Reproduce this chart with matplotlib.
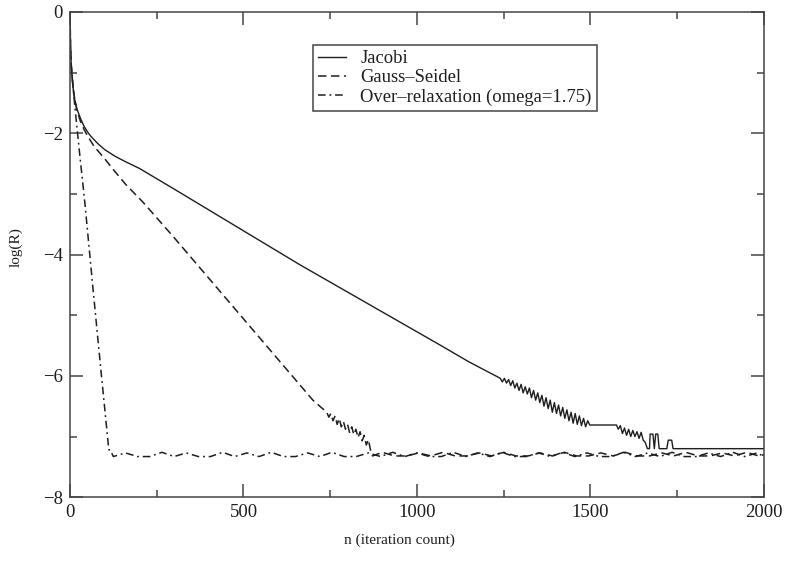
import matplotlib
matplotlib.use('Agg')
import matplotlib.pyplot as plt
import matplotlib.ticker as ticker

# residual curves (n = iteration count, value = log(R))
jacobi_n = ([0, 1, 2, 4, 6, 9, 14, 20, 30, 40, 52, 60, 80, 100, 130, 160, 200,
             250, 300, 663, 1066, 1150]
            + [1240, 1246, 1252, 1258, 1264, 1270, 1276, 1282, 1288, 1294, 1300,
               1306, 1312, 1318, 1324, 1330, 1336, 1342, 1348, 1354, 1360, 1366,
               1372, 1378, 1384, 1390, 1396, 1402, 1408, 1414, 1420, 1426, 1432,
               1438, 1444, 1450, 1456, 1462, 1468, 1474, 1480, 1486, 1492, 1498]
            + [1575]
            + [1580, 1586, 1592, 1598, 1604, 1610, 1616, 1622, 1628, 1634, 1640,
               1646, 1652, 1658, 1664, 1670, 1672, 1680, 1684, 1688, 1694, 1698,
               1704, 1720, 1724, 1734, 1738, 2000])
jacobi_logr = ([0, -0.4, -0.65, -0.9, -1.05, -1.25, -1.45, -1.6, -1.75, -1.88, -1.99,
                -2.05, -2.17, -2.27, -2.38, -2.47, -2.58, -2.75, -2.92, -4.17, -5.49,
                -5.77]
               + [-6.04, -6.10, -6.04, -6.12, -6.06, -6.16, -6.08, -6.20, -6.12, -6.24,
                  -6.14, -6.28, -6.18, -6.30, -6.20, -6.36, -6.24, -6.40, -6.28, -6.44,
                  -6.32, -6.50, -6.36, -6.54, -6.40, -6.60, -6.44, -6.62, -6.48, -6.66,
                  -6.52, -6.70, -6.56, -6.74, -6.60, -6.78, -6.62, -6.80, -6.66, -6.82,
                  -6.70, -6.84, -6.74, -6.81]
               + [-6.81]
               + [-6.88, -6.82, -6.95, -6.86, -6.98, -6.88, -7.00, -6.90, -7.00, -6.92,
                  -7.03, -6.93, -7.06, -7.10, -7.20, -7.20, -6.96, -6.96, -7.20, -6.96,
                  -6.96, -7.20, -7.20, -7.20, -7.06, -7.06, -7.20, -7.20])

gs_n = ([0, 2, 4, 6, 9, 14, 20, 30, 40, 50, 70, 100, 125, 160, 211, 300, 400,
         500, 600, 700, 740]
        + [746, 752, 758, 764, 770, 776, 782, 788, 794, 800, 806, 812, 818, 824,
           830, 836, 842, 848, 854, 860, 866]
        + [872, 900, 935, 970, 1005, 1040, 1075, 1110, 1145, 1180, 1215, 1250,
           1285, 1320, 1355, 1390, 1425, 1460, 1495, 1530, 1565, 1600, 1635, 1670,
           1705, 1740, 1775, 1810, 1845, 1880, 1915, 1950, 1985, 2000])
gs_logr = ([0, -0.65, -0.9, -1.05, -1.25, -1.45, -1.62, -1.8, -1.93, -2.04, -2.22,
            -2.42, -2.6, -2.84, -3.14, -3.72, -4.39, -5.06, -5.73, -6.4, -6.6]
           + [-6.68, -6.62, -6.74, -6.66, -6.80, -6.70, -6.84, -6.75, -6.88, -6.80,
              -6.94, -6.84, -6.97, -6.88, -7.02, -6.92, -7.07, -6.98, -7.14, -7.05,
              -7.22]
           + [-7.32, -7.26, -7.32, -7.32, -7.27, -7.32, -7.26, -7.32, -7.32, -7.27,
              -7.32, -7.26, -7.32, -7.32, -7.27, -7.32, -7.26, -7.32, -7.32, -7.27,
              -7.32, -7.26, -7.32, -7.32, -7.27, -7.32, -7.26, -7.32, -7.32, -7.27,
              -7.32, -7.26, -7.32, -7.30])

sor_n = ([0, 2, 4, 6, 9, 14, 20, 30, 43, 67, 90, 112]
         + [116, 125, 160, 195, 230, 265, 300, 335, 370, 405, 440, 475, 510, 545,
            580, 615, 650, 685, 720, 755, 790, 825, 860, 895, 930, 965, 1000, 1035,
            1070, 1105, 1140, 1175, 1210, 1245, 1280, 1315, 1350, 1385, 1420, 1455,
            1490, 1525, 1560, 1595, 1630, 1665, 1700, 1735, 1770, 1805, 1840, 1875,
            1910, 1945, 1980, 2000])
sor_logr = ([0, -0.65, -0.9, -1.05, -1.25, -1.55, -1.9, -2.45, -3.15, -4.6, -5.95,
             -7.22]
            + [-7.22, -7.33, -7.27, -7.33, -7.33, -7.26, -7.33, -7.27, -7.33, -7.33,
               -7.26, -7.33, -7.27, -7.33, -7.26, -7.33, -7.33, -7.27, -7.33, -7.26,
               -7.33, -7.33, -7.27, -7.33, -7.26, -7.33, -7.27, -7.33, -7.33, -7.26,
               -7.33, -7.27, -7.33, -7.26, -7.33, -7.33, -7.27, -7.33, -7.26, -7.33,
               -7.27, -7.33, -7.33, -7.26, -7.33, -7.27, -7.33, -7.26, -7.33, -7.33,
               -7.27, -7.33, -7.26, -7.33, -7.27, -7.33])

labels = ['Jacobi', 'Gauss\u2013Seidel', 'Over\u2013relaxation (omega=1.75)']
x_ticks = [0, 500, 1000, 1500, 2000]
y_ticks = [-8, -6, -4, -2, 0]

INK = '#1e1e1e'
FRAME = '#454545'

plt.rcParams.update({
    'font.family': ['Liberation Serif', 'DejaVu Serif'],
    'text.color': INK,
    'axes.labelcolor': INK,
    'xtick.color': FRAME,
    'ytick.color': FRAME,
    'xtick.labelcolor': INK,
    'ytick.labelcolor': INK,
    'axes.edgecolor': FRAME,
    'axes.linewidth': 1.1,
})

fig = plt.figure(figsize=(7.86, 5.65), dpi=100)
ax = fig.add_axes([0.089, 0.120, 0.883, 0.859])

ax.plot(jacobi_n, jacobi_logr, color=INK, lw=1.0, label=labels[0])
ax.plot(gs_n, gs_logr, color=INK, lw=1.1, dashes=(5.5, 3.0), label=labels[1])
ax.plot(sor_n, sor_logr, color=INK, lw=1.1, dashes=(5.0, 2.5, 1.2, 2.5), label=labels[2])

ax.set_xlim(0, 2000)
ax.set_ylim(-8, 0)
ax.set_xticks(x_ticks)
ax.set_yticks(y_ticks)
ax.xaxis.set_minor_locator(ticker.AutoMinorLocator(2))
ax.yaxis.set_minor_locator(ticker.AutoMinorLocator(2))
ax.tick_params(which='both', direction='in', top=True, right=True, width=1.1,
               labelsize=13.5)
ax.tick_params(which='major', length=9.5, pad=5)
ax.tick_params(which='minor', length=5)

ax.set_xlabel('n (iteration count)', fontsize=11)
ax.set_ylabel('log(R)', fontsize=11)
ax.xaxis.set_label_coords(0.475, -0.075)
ax.yaxis.set_label_coords(-0.068, 0.515)

leg = ax.legend(loc='upper left', bbox_to_anchor=(0.35, 0.932), borderaxespad=0,
                fontsize=13.4, frameon=True, fancybox=False, framealpha=1,
                edgecolor=FRAME, handlelength=1.5, handletextpad=0.75,
                labelspacing=0.1, borderpad=0.3)
leg.get_frame().set_linewidth(1.1)

fig.savefig('out.png', dpi=100)
